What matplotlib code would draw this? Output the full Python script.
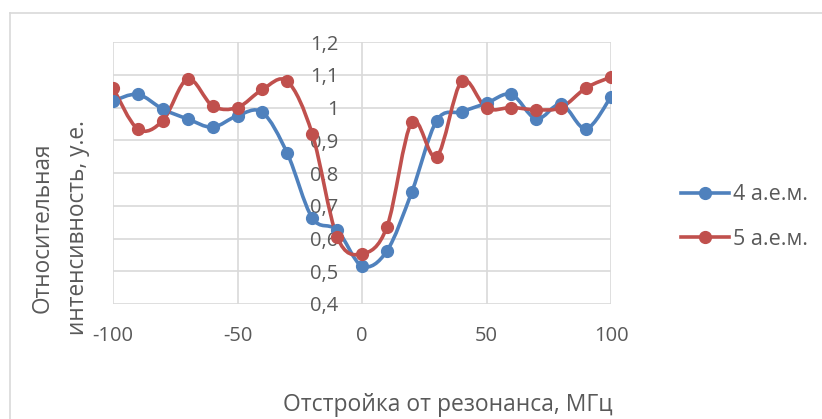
import numpy as np
import matplotlib
matplotlib.use("Agg")
import matplotlib.pyplot as plt
from matplotlib.path import Path
from matplotlib.patches import PathPatch
from matplotlib.lines import Line2D

plt.rcParams['font.family'] = ['Open Sans', 'DejaVu Sans']
plt.rcParams['axes.unicode_minus'] = False

detuning = [-100, -90, -80, -70, -60, -50, -40, -30, -20, -10, 0,
            10, 20, 30, 40, 50, 60, 70, 80, 90, 100]
mass4 = [1.02, 1.04, 0.995, 0.965, 0.94, 0.975, 0.985, 0.86, 0.663, 0.626, 0.516,
         0.562, 0.742, 0.96, 0.987, 1.013, 1.04, 0.965, 1.01, 0.935, 1.033]
mass5 = [1.06, 0.934, 0.96, 1.087, 1.005, 1.0, 1.055, 1.08, 0.92, 0.605, 0.553,
         0.635, 0.955, 0.85, 1.08, 0.998, 1.0, 0.993, 1.0, 1.06, 1.093]
labels = ["4 а.е.м.", "5 а.е.м."]
colors = ["#4F81BD", "#C0504D"]
text_col = "#595959"
grid_col = "#D9D9D9"


def smooth_path(x, y):
    # Excel-like smoothed line: Catmull-Rom segments as cubic Beziers
    p = np.column_stack([x, y]).astype(float)
    n = len(p)
    verts = [p[0]]
    codes = [Path.MOVETO]
    for i in range(n - 1):
        p0 = p[i - 1] if i > 0 else p[i]
        p3 = p[i + 2] if i + 2 < n else p[i + 1]
        c1 = p[i] + (p[i + 1] - p0) / 6
        c2 = p[i + 1] - (p3 - p[i]) / 6
        verts += [c1, c2, p[i + 1]]
        codes += [Path.CURVE4] * 3
    return Path(verts, codes)


W, H = 822, 419
fig = plt.figure(figsize=(W / 100, H / 100), dpi=100)
ax = fig.add_axes([113 / W, 1 - 304 / H, (611 - 113) / W, (304 - 42) / H])

for ys, c in zip([mass4, mass5], colors):
    ax.add_patch(PathPatch(smooth_path(detuning, ys), fill=False, edgecolor=c,
                           lw=2.6, transform=ax.transData, zorder=3,
                           capstyle='round', joinstyle='round'))
    ax.plot(detuning, ys, ls='none', marker='o', ms=8.5, color=c, zorder=4)

ax.set_xlim(-100, 100)
ax.set_ylim(0.4, 1.2)
ax.set_xticks([-100, -50, 0, 50, 100])
ax.set_yticks(np.round(np.arange(0.4, 1.21, 0.1), 1))
ax.set_yticklabels([f"{v:.1f}".replace('.', ',').replace(',0', '') for v in ax.get_yticks()])
ax.grid(True, color=grid_col, lw=1.2)
ax.set_axisbelow(True)
for s in ax.spines.values():
    s.set_visible(False)
ax.spines['left'].set_position(('data', 0))
ax.tick_params(axis='both', length=0, labelsize=14.5, colors=text_col)
ax.tick_params(axis='y', pad=17)
ax.tick_params(axis='x', pad=16)
for t in ax.get_yticklabels():
    t.set_zorder(5)

fig.text(448 / W, 1 - 405 / H, "Отстройка от резонанса, МГц", ha='center',
         va='center', fontsize=16.5, color=text_col)
fig.text(43 / W, 1 - 228 / H, "Относительная", rotation=90, ha='center',
         va='center', fontsize=16.3, color=text_col)
fig.text(78 / W, 1 - 228 / H, "интенсивность, у.е.", rotation=90, ha='center',
         va='center', fontsize=16.3, color=text_col)

handles = [Line2D([], [], color=c, lw=2.6, marker='o', ms=8.5) for c in colors]
fig.legend(handles, labels, loc='center left', bbox_to_anchor=(662 / W, 1 - 217 / H),
           frameon=False, fontsize=15.5, labelcolor=text_col, handlelength=2.2,
           handletextpad=0.2, labelspacing=1.1)

# chart area outline (top and left edges visible)
fig.add_artist(Line2D([10 / W, 1], [1 - 13 / H] * 2, color=grid_col, lw=1.2))
fig.add_artist(Line2D([10 / W] * 2, [0, 1 - 13 / H], color=grid_col, lw=1.2))

fig.savefig("out.png", dpi=100)
